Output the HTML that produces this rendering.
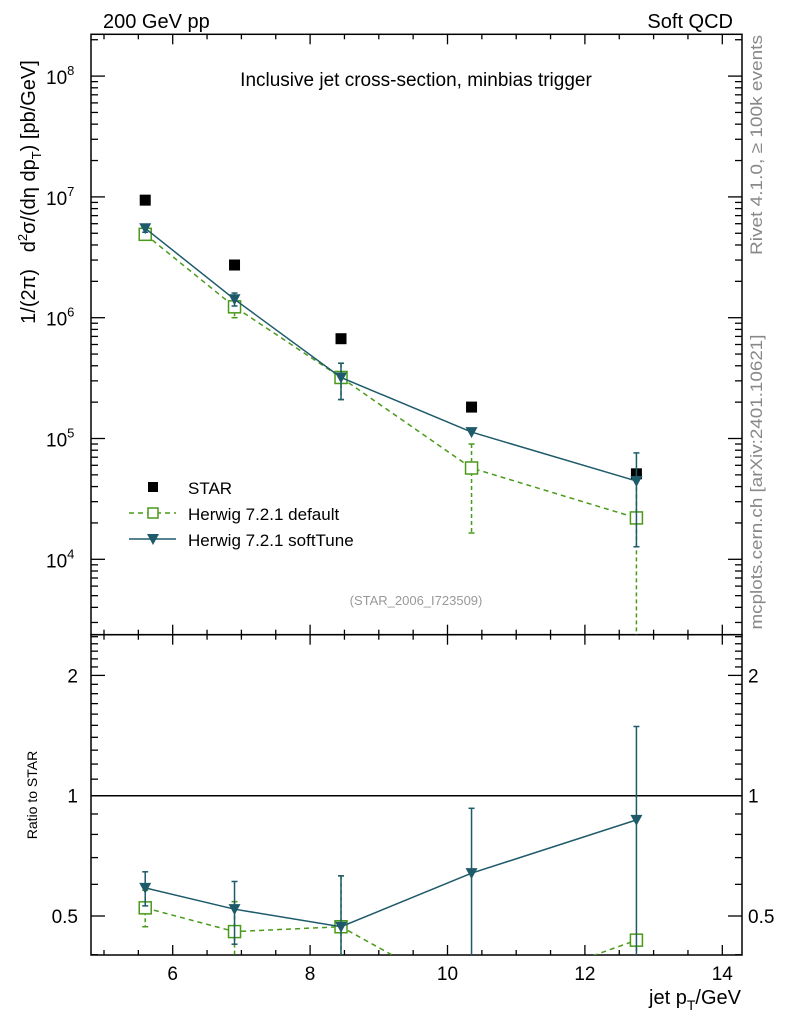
<!DOCTYPE html>
<html><head><meta charset="utf-8">
<style>
html,body{margin:0;padding:0;background:#fff;}
svg{display:block;font-family:"Liberation Sans",Arial,sans-serif;}
</style></head>
<body>
<svg id="chart" width="786" height="1024" viewBox="0 0 786 1024" xmlns="http://www.w3.org/2000/svg">
<g id="grid"></g>
<text x="103" y="28" font-size="20">200 GeV pp</text>
<text x="733" y="28" font-size="20" text-anchor="end">Soft QCD</text>
<text x="416" y="86" font-size="19" text-anchor="middle">Inclusive jet cross-section, minbias trigger</text>
<text x="416" y="605" font-size="13" fill="#999" text-anchor="middle">(STAR_2006_I723509)</text>
<text transform="translate(762,145) rotate(-90)" font-size="17" fill="#888" text-anchor="middle" textLength="220" lengthAdjust="spacingAndGlyphs">Rivet 4.1.0, ≥ 100k events</text>
<text transform="translate(762,482) rotate(-90)" font-size="17" fill="#888" text-anchor="middle" textLength="295" lengthAdjust="spacingAndGlyphs">mcplots.cern.ch [arXiv:2401.10621]</text>
<text transform="translate(35,192) rotate(-90)" font-size="20" text-anchor="middle">1/(2π)&#160;&#160;&#160;d<tspan font-size="13" dy="-8">2</tspan><tspan dy="8">σ/(dη dp</tspan><tspan font-size="13" dy="6">T</tspan><tspan dy="-6">) [pb/GeV]</tspan></text>
<text transform="translate(37,795) rotate(-90)" font-size="14" text-anchor="middle">Ratio to STAR</text>
<text x="741" y="1004" font-size="20" text-anchor="end">jet p<tspan font-size="14" dy="6">T</tspan><tspan dy="-6">/GeV</tspan></text>
<g id="marks"></g>
<g id="legend">
 <rect x="148" y="482" width="10" height="10" fill="#000"/>
 <text x="188" y="494" font-size="17">STAR</text>
 <line x1="129" y1="513" x2="176" y2="513" stroke="#4a9a1a" stroke-width="1.5" stroke-dasharray="5,4"/>
 <rect x="148" y="508" width="10" height="10" fill="#fff" stroke="#4a9a1a" stroke-width="1.5"/>
 <text x="188" y="520" font-size="17">Herwig 7.2.1 default</text>
 <line x1="129" y1="539" x2="176" y2="539" stroke="#1d5a6a" stroke-width="1.5"/>
 <path d="M147,534 L159,534 L153,545 Z" fill="#1d5a6a"/>
 <text x="188" y="546" font-size="17">Herwig 7.2.1 softTune</text>
</g>
</svg>
<script>
const xVals = [5.6, 6.9, 8.45, 10.35, 12.75];
const starVals = [9.4e6, 2.73e6, 6.7e5, 1.82e5, 5.1e4];
const defVals = [4.9e6, 1.23e6, 3.2e5, 5.7e4, 2.2e4];
const defLo = [4.5e6, 1.0e6, 2.1e5, 1.65e4, 1];
const defHi = [5.3e6, 1.45e6, 4.2e5, 9.0e4, 4.5e4];
const softVals = [5.5e6, 1.42e6, 3.2e5, 1.13e5, 4.45e4];
const softLo = [5.1e6, 1.25e6, 2.1e5, 1.13e5, 1.27e4];
const softHi = [5.9e6, 1.6e6, 4.2e5, 1.13e5, 7.6e4];
const ratioDef = [0.524, 0.457, 0.47, 0.31, 0.435];
const ratioDefLo = [0.47, 0.3, 0.3, 0.3, 0.3];
const ratioDefHi = [0.58, 0.543, 0.63, 0.31, 0.435];
const ratioSoft = [0.588, 0.52, 0.47, 0.64, 0.87];
const ratioSoftLo = [0.53, 0.425, 0.3, 0.3, 0.3];
const ratioSoftHi = [0.645, 0.61, 0.63, 0.93, 1.49];
const xTicks = [6, 8, 10, 12, 14];
const yTicks = [4, 5, 6, 7, 8];
const rTicks = [0.5, 1, 2];

const NS = "http://www.w3.org/2000/svg";
const L = 91, R = 742, T = 34.3, MB = 634.7, RB = 955;
const X = v => 172.7 + (v - 6) * 68.7;
const Y = v => 317.7 - (Math.log10(v) - 6) * 120.8;
const RY = v => 795.7 - Math.log10(v) * 399.6;
const clampM = y => Math.max(T, Math.min(MB, y));
const clampR = y => Math.max(MB, Math.min(RB, y));
const grid = document.getElementById('grid');
const marks = document.getElementById('marks');
function mk(tag, attrs, parent) {
  const e = document.createElementNS(NS, tag);
  for (const k in attrs) e.setAttribute(k, attrs[k]);
  parent.appendChild(e);
  return e;
}
function ln(x1, y1, x2, y2, parent, name, extra) {
  const e = mk('line', Object.assign({x1, y1, x2, y2, stroke: '#000', 'stroke-width': 1.3}, extra || {}), parent);
  
  
  return e;
}
let f1 = mk('rect', {x: L, y: T, width: R - L, height: MB - T, fill: 'none', stroke: '#000', 'stroke-width': 1.5}, grid);


let f2 = mk('rect', {x: L, y: MB, width: R - L, height: RB - MB, fill: 'none', stroke: '#000', 'stroke-width': 1.5}, grid);


for (let v = 5; v <= 14.01; v += 0.5) {
  const major = Math.abs(v - Math.round(v)) < 1e-6 && Math.round(v) % 2 === 0;
  const len = major ? 10 : 5;
  const x = X(v);
  if (x < L || x > R) continue;
  [[T, 1], [MB, -1], [MB, 1], [RB, -1]].forEach(([y0, d]) => ln(x, y0, x, y0 + d * len, grid, 'x-tick'));
}
xTicks.forEach(v => {
  const t = mk('text', {x: X(v), y: 980, 'font-size': 19, 'text-anchor': 'middle'}, grid);
  t.textContent = v;
  
  
});
for (let d = 3; d <= 8; d++) {
  for (let m = 1; m <= 9; m++) {
    const y = Y(m * Math.pow(10, d));
    if (y < T || y > MB) continue;
    const len = m === 1 ? 14 : 7;
    ln(L, y, L + len, y, grid, 'y-tick');
    ln(R, y, R - len, y, grid, 'y-tick');
  }
}
yTicks.forEach(p => {
  const t = mk('text', {x: 46, y: Y(Math.pow(10, p)) + 8, 'font-size': 19}, grid);
  t.innerHTML = '10<tspan font-size="13" dy="-9">' + p + '</tspan>';
  
  
});
for (let v = 0.4; v <= 2.55; v += 0.1) {
  const y = RY(v);
  if (y < MB || y > RB) continue;
  const major = rTicks.some(r => Math.abs(r - v) < 1e-6);
  ln(L, y, L + (major ? 14 : 7), y, grid, 'ratio-y-tick');
  ln(R, y, R - (major ? 14 : 7), y, grid, 'ratio-y-tick');
}
rTicks.forEach(v => {
  const t = mk('text', {x: 78, y: RY(v) + 7, 'font-size': 19, 'text-anchor': 'end'}, grid);
  t.textContent = v;
  
  
  const t2 = mk('text', {x: 748, y: RY(v) + 7, 'font-size': 19}, grid);
  t2.textContent = v;
  
  
});
ln(L, RY(1), R, RY(1), grid, 'ratio-unity-line', {'stroke-width': 1.5});

const GREEN = '#4a9a1a', TEAL = '#1d5a6a';
function series(vals, lo, hi, yf, clamp, color, dashed, marker, prefix) {
  const pts = vals.map((v, i) => [X(xVals[i]), yf(v)]);
  const g = mk('g', {}, marks);
  
  
  const clipId = prefix + '-clip';
  const d = pts.map((p, i) => (i ? 'L' : 'M') + p[0].toFixed(1) + ',' + p[1].toFixed(1)).join(' ');
  const path = mk('path', {d, fill: 'none', stroke: color, 'stroke-width': 1.5, 'stroke-dasharray': dashed ? '5,4' : 'none', 'clip-path': 'url(#' + clipId + ')'}, g);
  
  
  const cp = mk('clipPath', {id: clipId}, g);
  const top = clamp(-1e9), bot = clamp(1e9);
  mk('rect', {x: L, y: top, width: R - L, height: bot - top}, cp);
  vals.forEach((v, i) => {
    const x = X(xVals[i]);
    const y1 = clamp(yf(hi[i])), y2 = clamp(yf(lo[i]));
    const e = mk('line', {x1: x, y1, x2: x, y2, stroke: color, 'stroke-width': 1.5, 'stroke-dasharray': dashed ? '4,3' : 'none'}, g);
    
    
    [y1, y2].forEach(yy => {
      if (yy > top + 1 && yy < bot - 1) {
        const c = mk('line', {x1: x - 3, y1: yy, x2: x + 3, y2: yy, stroke: color, 'stroke-width': 1.5}, g);
        
        
      }
    });
    const y = yf(v);
    if (y < top || y > bot) return;
    let m;
    if (marker === 'square') m = mk('rect', {x: x - 6, y: y - 6, width: 12, height: 12, fill: '#fff', stroke: color, 'stroke-width': 1.5}, g);
    else m = mk('path', {d: `M${x - 6},${y - 5} L${x + 6},${y - 5} L${x},${y + 6} Z`, fill: color}, g);
    
    
  });
}
starVals.forEach((v, i) => {
  const r = mk('rect', {x: X(xVals[i]) - 5.5, y: Y(v) - 5.5, width: 11, height: 11, fill: '#000'}, marks);
  
  
});
series(defVals, defLo, defHi, Y, clampM, GREEN, true, 'square', 'default');
series(softVals, softLo, softHi, Y, clampM, TEAL, false, 'tri', 'softtune');
series(ratioDef, ratioDefLo, ratioDefHi, RY, clampR, GREEN, true, 'square', 'ratio-default');
series(ratioSoft, ratioSoftLo, ratioSoftHi, RY, clampR, TEAL, false, 'tri', 'ratio-softtune');
</script>
</body></html>
